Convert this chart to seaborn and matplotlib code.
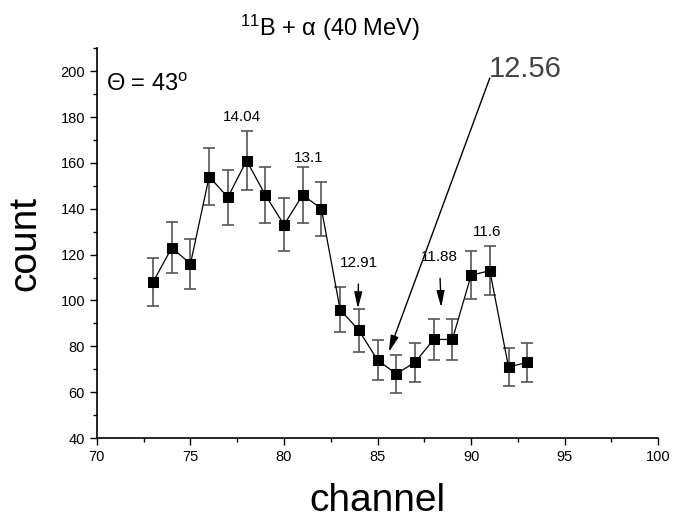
import numpy as np
import pandas as pd
import seaborn as sns
import matplotlib.pyplot as plt
from matplotlib.ticker import MultipleLocator

# spectrum values
channel = [73, 74, 75, 76, 77, 78, 79, 80, 81, 82, 83, 84, 85, 86, 87, 88, 89, 90, 91, 92, 93]
counts = [108, 123, 116, 154, 145, 161, 146, 133, 146, 140, 96, 87, 74, 68, 73, 83, 83, 111, 113, 71, 73]
errors = [10.4, 11.1, 10.8, 12.4, 12.0, 12.7, 12.1, 11.5, 12.1, 11.8, 9.8, 9.3, 8.6, 8.2, 8.5, 9.1, 9.1, 10.5, 10.6, 8.4, 8.5]

# peak labels: (text, x, y)
peak_labels = ["14.04", "13.1", "11.6"]
peak_x = [77.75, 81.3, 90.85]
peak_y = [180, 162, 130]

df = pd.DataFrame({"channel": channel, "count": counts, "err": errors})

sns.set_style("ticks")
plt.rcParams["font.family"] = ["Liberation Sans", "DejaVu Sans"]
plt.rcParams["mathtext.default"] = "regular"
plt.rcParams["text.color"] = "black"
plt.rcParams["axes.labelcolor"] = "black"

fig = plt.figure(figsize=(6.73, 5.24), dpi=100)
ax = fig.add_axes([0.144, 0.164, 0.834, 0.744])

ax.errorbar(df["channel"], df["count"], yerr=df["err"], fmt="none",
            ecolor="#555555", elinewidth=1.2, capsize=4, capthick=1.2, zorder=2)
sns.lineplot(data=df, x="channel", y="count", ax=ax, color="black", linewidth=0.9,
             marker="s", markersize=6.5, markeredgecolor="black", zorder=3)

ax.set_xlim(70, 100)
ax.set_ylim(40, 210)
ax.xaxis.set_major_locator(MultipleLocator(5))
ax.xaxis.set_minor_locator(MultipleLocator(2.5))
ax.yaxis.set_major_locator(MultipleLocator(20))
ax.yaxis.set_minor_locator(MultipleLocator(10))
ax.set_yticks(np.arange(40, 201, 20))
ax.tick_params(which="major", direction="out", length=5, width=1, labelsize=10.5, colors="black")
ax.tick_params(which="minor", direction="out", length=3, width=1, colors="black")
sns.despine(ax=ax)
for s in ["left", "bottom"]:
    ax.spines[s].set_color("black")
    ax.spines[s].set_linewidth(1.2)

ax.set_xlabel("channel", fontsize=28, labelpad=14)
ax.set_ylabel("count", fontsize=28, labelpad=12)

fig.text(0.49, 0.946, "$^{11}$B + α (40 MeV)", fontsize=17, ha="center", va="center")
ax.text(70.5, 194, "Θ = 43$^{o}$", fontsize=17, ha="left", va="center")

for t, x, y in zip(peak_labels, peak_x, peak_y):
    ax.text(x, y, t, fontsize=11, ha="center", va="center")

arrow = dict(arrowstyle="-|>,head_length=0.9,head_width=0.22", color="black", lw=1)
ax.annotate("12.91", xy=(83.95, 96.5), xytext=(84.0, 116.5), fontsize=11,
            ha="center", va="center", arrowprops=dict(arrow, shrinkA=8, shrinkB=0))
ax.annotate("11.88", xy=(88.4, 97), xytext=(88.3, 119), fontsize=11,
            ha="center", va="center", arrowprops=dict(arrow, shrinkA=8, shrinkB=0))
ax.annotate("", xy=(85.6, 77.5), xytext=(91.0, 197),
            arrowprops=dict(arrow, shrinkA=0, shrinkB=0, mutation_scale=11))
ax.text(92.9, 201, "12.56", fontsize=21, color="#444444", ha="center", va="center")

fig.savefig("out.png", dpi=100)
